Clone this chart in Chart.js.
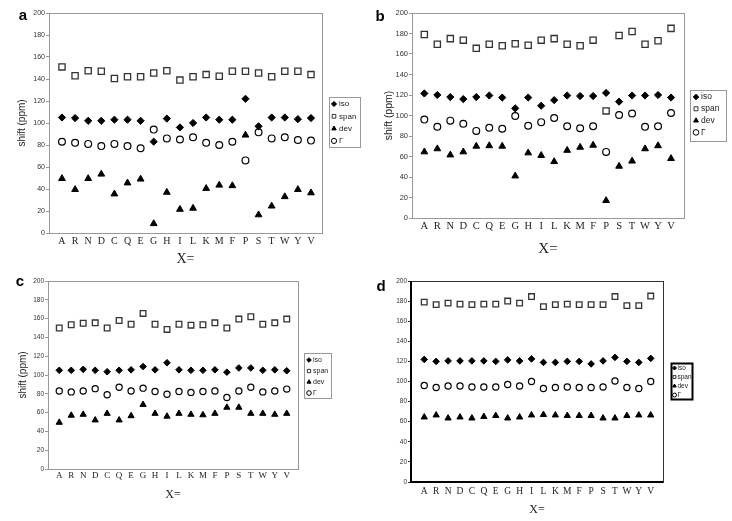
<!DOCTYPE html>
<html>
<head>
<meta charset="utf-8">
<script src="https://cdn.jsdelivr.net/npm/chart.js@4/dist/chart.umd.min.js"></script>
<style>
html, body { margin: 0; padding: 0; background: #fff; }
#wrap { position: relative; width: 732px; height: 521px; overflow: hidden; }
canvas { position: absolute; left: 0; top: 0; }
</style>
</head>
<body>
<div id="wrap">
  <canvas id="chartA" width="732" height="521"></canvas>
  <canvas id="chartB" width="732" height="521"></canvas>
  <canvas id="chartC" width="732" height="521"></canvas>
  <canvas id="chartD" width="732" height="521"></canvas>
</div>
<script>
var categories = ['A','R','N','D','C','Q','E','G','H','I','L','K','M','F','P','S','T','W','Y','V'];
var yTicks = [0, 20, 40, 60, 80, 100, 120, 140, 160, 180, 200];
var seriesNames = ['iso', 'span', 'dev', 'Γ'];

// panel a
var isoA   = [105,104.5,102,102,103,103,102,83,104,96,100,105,103,103,122,97,105,105,103.5,104.5];
var spanA  = [151,143,147.5,147,140.5,142,142,145.5,147.5,139,142,144,142.5,147,147,145.5,142,147,147,144];
var devA   = [49.5,39.5,49.5,53.5,35.5,45.5,49,8.5,37,21.5,22.5,40.5,43.5,43,89,16.5,24.5,33,39.5,36.5];
var gammaA = [83,82,81,79,81,79,77,94,86,85,87,82,80,83,66,91.5,86,87,84.5,84];

// panel b
var isoB   = [121.5,120,118,116,118,119.5,117.5,107,117.5,109.5,115,119.5,119,119,122,113.5,119.5,119.5,120,117.5];
var spanB  = [179,169.5,175,173.5,165.5,169.5,168,170,168.5,173.5,175,169.5,168,173.5,104.5,178,182,169.5,173,185];
var devB   = [64.5,67.5,61.5,64.5,70,70.5,70,41,63.5,61,55,66,69,71,17,50.5,55.5,67.5,70.5,58];
var gammaB = [96,89,95,92,85,88,87,99.5,90,93.5,97.5,89.5,87.5,89.5,64.5,100.5,102,89,89.5,102.5];

// panel c
var isoC   = [105,105,106,105,103.5,105,105.5,109,105.5,113,105.5,105,105,105.5,103,107.5,107.5,105,105.5,104.5];
var spanC  = [150,153.5,155,155.5,150,158,154,165.5,154,148.5,154,153,153.5,155.5,150,159.5,162,154,155.5,159.5];
var devC   = [49.5,57,58,52,59,52,56.5,68.5,59,56,59,58,57.5,59,65.5,65.5,59,59,58,59];
var gammaC = [83,82,83,85.5,79,87,83,86,82.5,79.5,82.5,81.5,82.5,83,76,83,87,82,83,85];

// panel d
var isoD   = [122,120,120.5,120.5,120.5,120.5,120,121.5,120.5,122.5,119,119,120,120,117.5,120.5,124,120,119,123];
var spanD  = [179,176.5,178,177,176.5,177,177,180,178,184.5,174.5,176.5,177,176.5,176.5,176.5,184.5,175.5,175.5,185];
var devD   = [64.5,66.5,63.5,64.5,63.5,65,66,63.5,64.5,66.5,67,66.5,66,66,66,63.5,63.5,66,66.5,66.5];
var gammaD = [96,94,95.5,95.5,94.5,94.5,94.5,97,95.5,100,93,94,94.5,94,94,94.5,100.5,94,93,100];

var SANS = '"Liberation Sans", Arial, sans-serif';
var SERIF = '"Liberation Serif", "Times New Roman", serif';

// frame, panel letter and boxed legend
var panelExtras = {
  id: 'panelExtras',
  afterDraw: function(chart) {
    var o = chart.options.plugins.panelExtras;
    var ctx = chart.ctx, a = chart.chartArea;
    ctx.save();
    ctx.strokeStyle = o.frameColor;
    ctx.lineWidth = 1;
    ctx.strokeRect(Math.round(a.left) + 0.5, Math.round(a.top) + 0.5, Math.round(a.right - a.left), Math.round(a.bottom - a.top));
    if (o.heavyAxes) {
      ctx.lineWidth = 2;
      ctx.strokeStyle = '#000';
      ctx.beginPath();
      ctx.moveTo(a.left, a.top);
      ctx.lineTo(a.left, a.bottom);
      ctx.lineTo(a.right, a.bottom);
      ctx.stroke();
    }
    // letter
    ctx.fillStyle = '#000';
    ctx.font = 'bold ' + o.letterSize + 'px ' + SANS;
    ctx.textAlign = 'center';
    ctx.textBaseline = 'middle';
    ctx.fillText(o.letter, o.letterX, o.letterY);
    // legend
    var lg = o.legend;
    ctx.lineWidth = lg.borderWidth;
    ctx.strokeStyle = lg.border;
    ctx.strokeRect(lg.x + 0.5, lg.y + 0.5, lg.w, lg.h);
    ctx.textAlign = 'left';
    ctx.font = lg.font + 'px ' + SANS;
    chart.data.datasets.forEach(function(ds, i) {
      var cy = lg.y + lg.first + i * lg.step;
      ctx.fillStyle = ds.pointBackgroundColor;
      ctx.strokeStyle = ds.pointBorderColor;
      ctx.lineWidth = 1;
      Chart.helpers.drawPoint(ctx, {pointStyle: ds.pointStyle, radius: lg.r, borderWidth: 1, rotation: 0}, lg.x + lg.mx, cy);
      ctx.fillStyle = '#222';
      ctx.fillText(ds.label, lg.x + lg.tx, cy);
    });
    ctx.restore();
  }
};

function pts(arr) {
  return arr.map(function(v, i) { return {x: i, y: v}; });
}

function makeSets(iso, span, dev, gam, r) {
  return [
    {label: seriesNames[0], data: pts(iso), pointStyle: 'rectRot', pointRadius: r.iso,
     pointBackgroundColor: '#000', pointBorderColor: '#000', pointBorderWidth: 1},
    {label: seriesNames[1], data: pts(span), pointStyle: 'rect', pointRadius: r.span,
     pointBackgroundColor: '#fff', pointBorderColor: '#333', pointBorderWidth: 1.3},
    {label: seriesNames[2], data: pts(dev), pointStyle: 'triangle', pointRadius: r.dev,
     pointBackgroundColor: '#000', pointBorderColor: '#000', pointBorderWidth: 1},
    {label: seriesNames[3], data: pts(gam), pointStyle: 'circle', pointRadius: r.gam,
     pointBackgroundColor: '#fff', pointBorderColor: '#000', pointBorderWidth: 1.2}
  ];
}

function makeChart(id, sets, p) {
  return new Chart(document.getElementById(id), {
    type: 'scatter',
    data: {datasets: sets},
    options: {
      responsive: false,
      animation: false,
      devicePixelRatio: 1,
      events: [],
      layout: {padding: {left: p.ox, top: p.T, right: 732 - p.R, bottom: 521 - p.xBottom}},
      plugins: {legend: {display: false}, tooltip: {enabled: false}, panelExtras: p},
      scales: {
        x: {
          type: 'linear', min: p.xmin, max: p.xmax,
          afterBuildTicks: function(s) { s.ticks = categories.map(function(c, i) { return {value: i}; }); },
          afterFit: function(s) { s.height = p.xBottom - p.B; },
          ticks: {
            callback: function(v) { return categories[v]; },
            font: {family: SERIF, size: p.xFont}, color: '#222',
            padding: p.xPad, maxRotation: 0, autoSkip: false
          },
          grid: {display: false, drawTicks: false},
          border: {display: false},
          title: {display: true, text: 'X=', font: {family: SERIF, size: p.xtFont}, color: '#222', padding: 0}
        },
        y: {
          min: 0, max: 200,
          afterBuildTicks: function(s) { s.ticks = yTicks.map(function(v) { return {value: v}; }); },
          afterFit: function(s) { s.width = p.L - p.ox; },
          ticks: {font: {family: SANS, size: p.yFont}, color: '#333', padding: 1},
          grid: {drawOnChartArea: false, drawTicks: true, tickLength: 3, color: p.frameColor},
          border: {display: false},
          title: {display: !!p.ytitle, text: 'shift (ppm)', font: {family: SANS, size: p.ytFont}, color: '#222',
                  padding: {top: p.ytPad, bottom: 0}}
        }
      }
    },
    plugins: [panelExtras]
  });
}

makeChart('chartA', makeSets(isoA, spanA, devA, gammaA, {iso: 3.6, span: 4.4, dev: 3.9, gam: 3.4}), {
  ox: 0, L: 49, T: 13, R: 322, B: 233, xBottom: 268, xmin: -0.99, xmax: 19.84,
  xFont: 10, xPad: 2, xtFont: 14, yFont: 7, ytitle: true, ytFont: 10, ytPad: 16,
  frameColor: '#999', heavyAxes: false,
  letter: 'a', letterX: 23, letterY: 16, letterSize: 15,
  legend: {x: 329, y: 97, w: 31, h: 50, border: '#999', borderWidth: 1, font: 8, first: 7, step: 12.3, mx: 5, tx: 10, r: 2.6}
});

makeChart('chartB', makeSets(isoB, spanB, devB, gammaB, {iso: 3.6, span: 4.4, dev: 3.9, gam: 3.4}), {
  ox: 366, L: 412, T: 13, R: 684, B: 218, xBottom: 258, xmin: -0.95, xmax: 20.0,
  xFont: 10.5, xPad: 2, xtFont: 15, yFont: 7.5, ytitle: true, ytFont: 10.5, ytPad: 17,
  frameColor: '#999', heavyAxes: false,
  letter: 'b', letterX: 380, letterY: 17, letterSize: 15,
  legend: {x: 690, y: 90, w: 36, h: 51, border: '#999', borderWidth: 1, font: 8.5, first: 7, step: 11.8, mx: 6, tx: 11, r: 2.8}
});

makeChart('chartC', makeSets(isoC, spanC, devC, gammaC, {iso: 3.3, span: 4, dev: 3.6, gam: 3.1}), {
  ox: 0, L: 48, T: 281, R: 298, B: 469, xBottom: 502, xmin: -0.94, xmax: 19.94,
  xFont: 9, xPad: 1, xtFont: 12, yFont: 6.5, ytitle: true, ytFont: 10, ytPad: 17,
  frameColor: '#999', heavyAxes: false,
  letter: 'c', letterX: 20, letterY: 282, letterSize: 15,
  legend: {x: 304, y: 353, w: 27, h: 45, border: '#999', borderWidth: 1, font: 7, first: 7, step: 11, mx: 5, tx: 9, r: 2.3}
});

makeChart('chartD', makeSets(isoD, spanD, devD, gammaD, {iso: 3.3, span: 4, dev: 3.6, gam: 3.1}), {
  ox: 366, L: 411, T: 281, R: 663, B: 482, xBottom: 517, xmin: -1.11, xmax: 20.03,
  xFont: 9.5, xPad: 4, xtFont: 12, yFont: 6.5, ytitle: false, ytFont: 10, ytPad: 0,
  frameColor: '#333', heavyAxes: true,
  letter: 'd', letterX: 381, letterY: 287, letterSize: 15,
  legend: {x: 671, y: 363, w: 21, h: 36, border: '#000', borderWidth: 2, font: 6.5, first: 5, step: 9, mx: 3.5, tx: 6.5, r: 2}
});
</script>
</body>
</html>
